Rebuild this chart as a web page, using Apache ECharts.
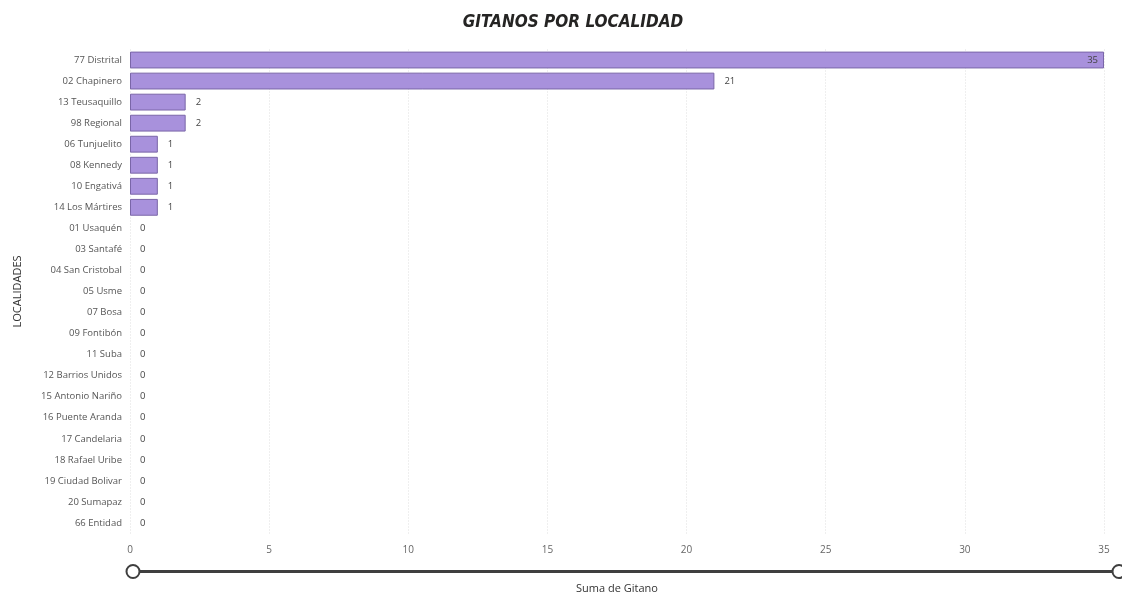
<!DOCTYPE html>
<html><head><meta charset="utf-8">
<script src="https://cdn.jsdelivr.net/npm/echarts@6/dist/echarts.min.js"></script>
<style>html,body{margin:0;padding:0;background:#fff}#c{width:1122px;height:594px}</style>
</head><body><div id="c"></div>
<script>
const categories = ["77 Distrital","02 Chapinero","13 Teusaquillo","98 Regional","06 Tunjuelito","08 Kennedy","10 Engativá","14 Los Mártires","01 Usaquén","03 Santafé","04 San Cristobal","05 Usme","07 Bosa","09 Fontibón","11 Suba","12 Barrios Unidos","15 Antonio Nariño","16 Puente Aranda","17 Candelaria","18 Rafael Uribe","19 Ciudad Bolivar","20 Sumapaz","66 Entidad"];
const values = [35,21,2,2,1,1,1,1,0,0,0,0,0,0,0,0,0,0,0,0,0,0,0];
const xTicks = [0,5,10,15,20,25,30,35];

const chart = echarts.init(document.getElementById('c'), null, {renderer:'canvas'});
const font = "'Open Sans', 'Segoe UI', sans-serif";
chart.setOption({
  animation:false,
  backgroundColor:'#fff',
  title:{text:'GITANOS POR LOCALIDAD', left:568, top:9, textAlign:'center',
    textStyle:{fontFamily:"'Liberation Sans Narrow','DejaVu Sans Condensed',sans-serif", fontSize:17, fontWeight:'bold', fontStyle:'italic', color:'#252423'}},
  grid:{left:130, right:18, top:49.5, bottom:60.5, containLabel:false, outerBoundsMode:'none'},
  xAxis:{type:'value', min:0, max:35, interval:5,
    name:'Suma de Gitano', nameLocation:'middle', nameGap:50,
    nameTextStyle:{fontFamily:font, fontSize:11, color:'#333'},
    axisLine:{show:false}, axisTick:{show:false},
    axisLabel:{fontFamily:font, fontSize:10, color:'#666', margin:12, customValues:xTicks},
    splitLine:{show:true, lineStyle:{color:'#dedede', type:[1,2], width:1}}},
  yAxis:{type:'category', data:categories, inverse:true,
    name:'LOCALIDADES', nameLocation:'middle', nameGap:107, nameRotate:90,
    nameTextStyle:{fontFamily:font, fontSize:11, color:'#333'},
    axisLine:{show:false}, axisTick:{show:false},
    axisLabel:{fontFamily:font, fontSize:9.5, color:'#555', margin:8}},
  dataZoom:[{type:'slider', xAxisIndex:0, start:0, end:100, filterMode:'none',
    left:130, right:4, top:570, height:3,
    showDetail:false, showDataShadow:false, brushSelect:false,
    moveHandleSize:0, moveHandleStyle:{opacity:0},
    borderColor:'#3f3f3f', backgroundColor:'#3f3f3f', fillerColor:'#3f3f3f',
    handleIcon:'circle', handleSize:13,
    handleStyle:{color:'#fff', borderColor:'#3f3f3f', borderWidth:2},
    emphasis:{handleStyle:{color:'#fff', borderColor:'#3f3f3f'}},
    dataBackground:{lineStyle:{opacity:0}, areaStyle:{opacity:0}},
    selectedDataBackground:{lineStyle:{opacity:0}, areaStyle:{opacity:0}}
  }],
  series:[{type:'bar', data:values.map((v,i)=>({value:v,
      itemStyle: v===0 ? {borderWidth:0} : undefined,
      label: v===35 ? {position:'insideRight', distance:6} : {position:'right', distance:10}})),
    barCategoryGap:'20%',
    itemStyle:{color:'#A891DC', borderColor:'#7a66a8', borderWidth:1},
    label:{show:true, fontFamily:font, fontSize:9.5, color:'#444'}
  }]
});
</script></body></html>
